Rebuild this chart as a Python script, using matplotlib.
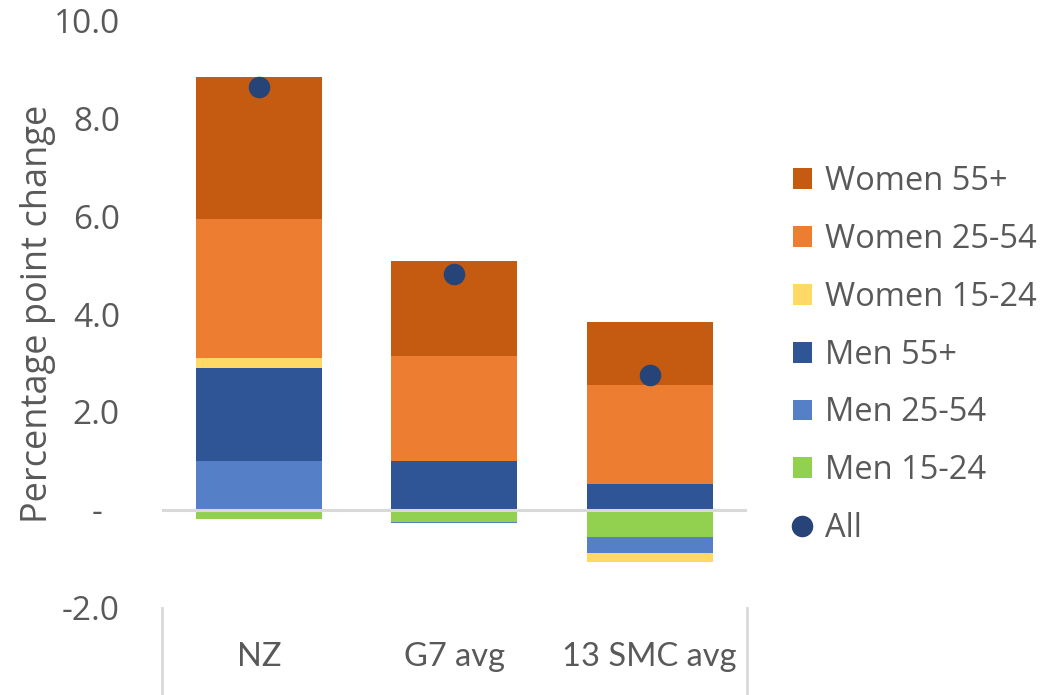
import numpy as np
import matplotlib.pyplot as plt
from matplotlib.patches import Patch
from matplotlib.lines import Line2D

# Contribución por grupo de edad y sexo (puntos porcentuales)
paises = ['NZ', 'G7 avg', '13 SMC avg']
series = ['Men 15-24', 'Men 25-54', 'Men 55+',
          'Women 15-24', 'Women 25-54', 'Women 55+']
men_15_24 = [-0.18, -0.24, -0.55]
men_25_54 = [1.01, -0.03, -0.32]
men_55 = [1.89, 1.01, 0.53]
women_15_24 = [0.20, 0.0, -0.20]
women_25_54 = [2.83, 2.14, 2.02]
women_55 = [2.91, 1.94, 1.29]
total = [8.63, 4.81, 2.76]

yticks = [10, 8, 6, 4, 2, 0, -2]
ytick_labels = ['10.0', '8.0', '6.0', '4.0', '2.0', '-  ', '-2.0']

colores = ['#92D050', '#5580C8', '#2F5597', '#FFD966', '#ED7D31', '#C55A11']
color_total = '#264478'
gris = '#595959'

datos = [men_15_24, men_25_54, men_55, women_15_24, women_25_54, women_55]

fig = plt.figure(figsize=(10.63, 6.95), dpi=100)
ax = fig.add_axes([0.152, 0.1252, 0.551, 0.846])

x = np.arange(len(paises))
base_pos = np.zeros(len(paises))
base_neg = np.zeros(len(paises))

# Barras apiladas: positivos hacia arriba, negativos hacia abajo
for valores, color in zip(datos, colores):
    v = np.array(valores)
    pos = np.where(v > 0, v, 0)
    neg = np.where(v < 0, v, 0)
    ax.bar(x, pos, bottom=base_pos, width=0.645, color=color, zorder=2)
    ax.bar(x, neg, bottom=base_neg, width=0.645, color=color, zorder=2)
    base_pos += pos
    base_neg += neg

ax.axhline(0, color='#D9D9D9', linewidth=2.2, zorder=3)
ax.plot(x, total, 'o', color=color_total, markersize=14.5, zorder=4)

ax.set_xlim(-0.5, len(paises) - 0.5)
ax.set_ylim(-2, 10)
ax.set_yticks(yticks)
ax.set_yticklabels(ytick_labels, fontsize=24, color=gris, family='Open Sans')
ax.tick_params(axis='y', length=0, pad=30)
ax.set_xticks([])

for s in ax.spines.values():
    s.set_visible(False)

# Separadores verticales bajo el eje
for xs in [0, 1]:
    ax.plot([xs, xs], [0, -0.2], transform=ax.transAxes, color='#D9D9D9',
            linewidth=2, clip_on=False)

for xi, nombre in zip(x, paises):
    ax.text(xi, -3.0, nombre, ha='center', va='center', fontsize=23.5,
            color=gris, family='Lato')

ax.set_ylabel('Percentage point change', fontsize=26, color=gris,
              family='Open Sans', labelpad=-2)

# Leyenda en orden inverso
handles = [Patch(facecolor=c, label=l) for c, l in zip(colores[::-1], series[::-1])]
handles.append(Line2D([], [], marker='o', linestyle='none', color=color_total,
                      markersize=14.5, label='All'))
leg = fig.legend(handles=handles, loc='center left', bbox_to_anchor=(0.718, 0.489),
                 frameon=False, handlelength=0.6, handleheight=0.6,
                 handletextpad=0.4, labelspacing=0.76,
                 prop={'family': 'Open Sans', 'size': 23.5})
for t in leg.get_texts():
    t.set_color(gris)

fig.savefig('out.png', dpi=100)
